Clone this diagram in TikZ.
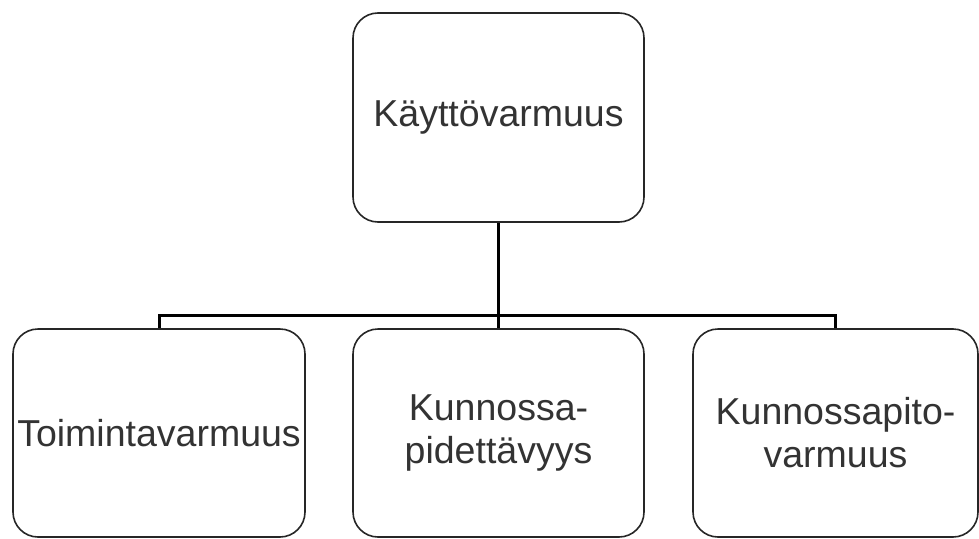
\documentclass[tikz,border=0pt]{standalone}
\usepackage{fontspec}
\setmainfont{Liberation Sans}
\begin{document}
\begin{tikzpicture}[x=1pt,y=-1pt,
  box/.style={draw=black!85, line width=1.6pt, rounded corners=25pt, align=center,
    inner sep=0pt, font=\fontsize{37.5}{43}\selectfont, text=black!80},
  link/.style={line width=3pt, draw=black}]
\useasboundingbox (0,0) rectangle (979,538);
\node[box, minimum width=291pt, minimum height=209pt] (top) at (498.5,117.5) {Käyttövarmuus};
\node[box, minimum width=292pt, minimum height=208pt] (left) at (159,433) {Toimintavarmuus};
\node[box, minimum width=291pt, minimum height=208pt] (mid) at (498.5,433) {Kunnossa-\\pidettävyys};
\node[box, minimum width=285pt, minimum height=208pt] (right) at (835.5,433) {Kunnossapito-\\varmuus};
\coordinate (j) at (498.5,315);
\draw[link] (top.south) -- (j);
\draw[link] (mid.north) -- (j);
\draw[link] (left.north) |- (j);
\draw[link] (right.north) |- (j);
\end{tikzpicture}
\end{document}
